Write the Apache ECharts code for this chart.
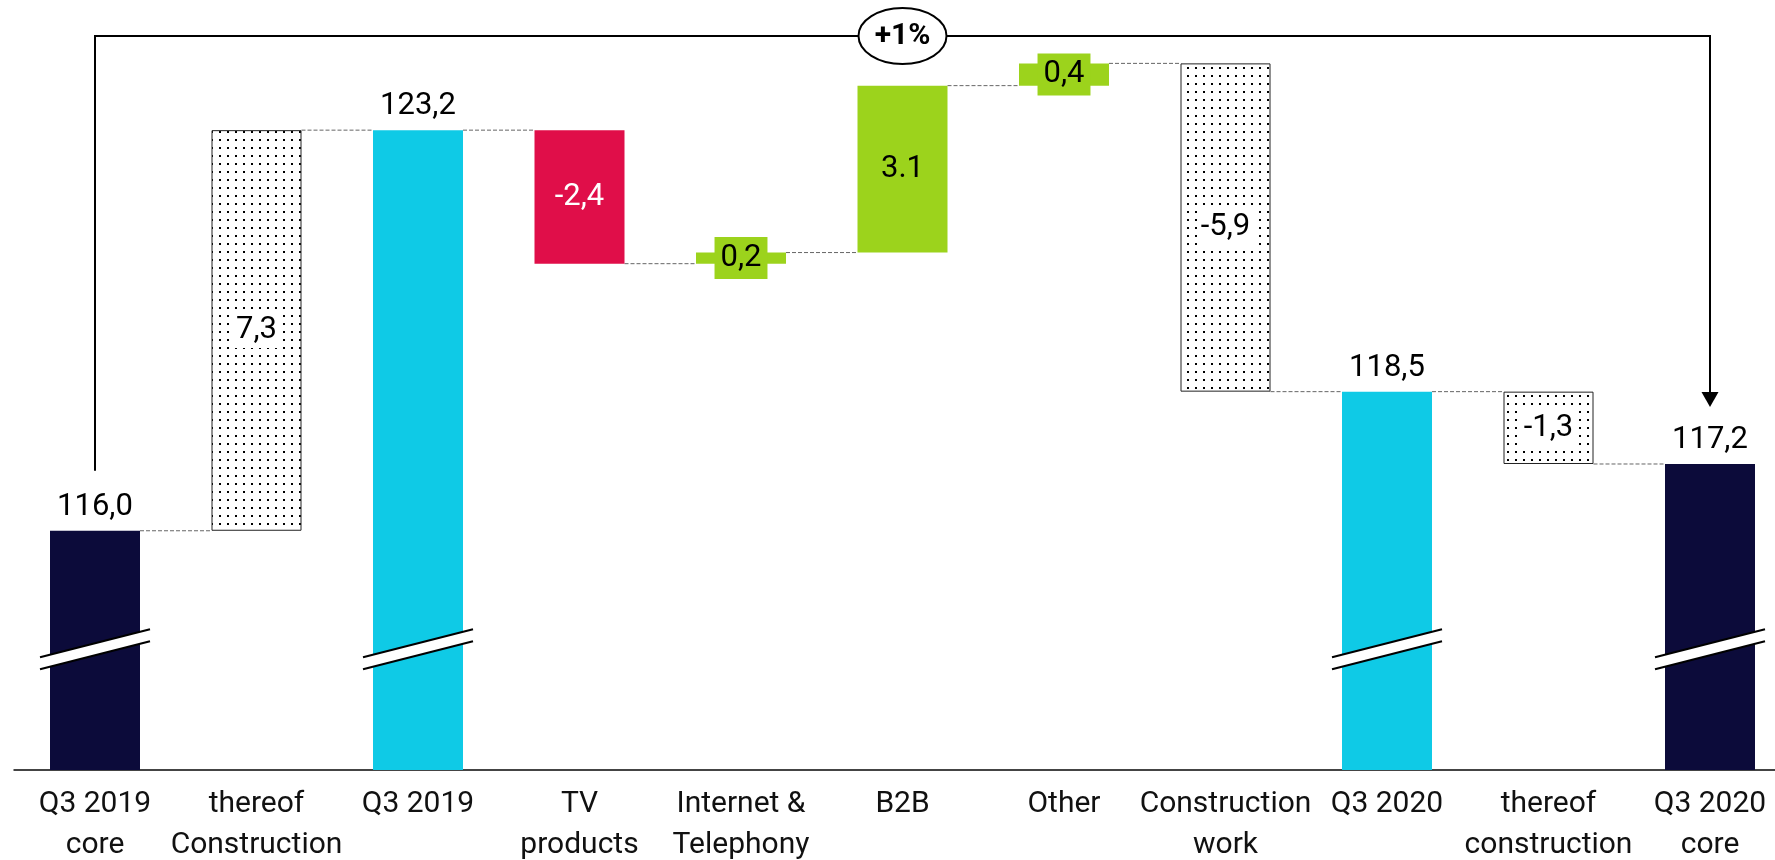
<!DOCTYPE html>
<html>
<head>
<meta charset="utf-8">
<script src="https://cdn.jsdelivr.net/npm/echarts@6/dist/echarts.min.js"></script>
<style>
  html, body { margin: 0; padding: 0; background: #fff; overflow: hidden; }
  #chart { width: 1792px; height: 860px; }
</style>
</head>
<body>
<div id="chart"></div>
<script>
// data
const categories = ['Q3 2019\ncore', 'thereof\nConstruction', 'Q3 2019', 'TV\nproducts', 'Internet &\nTelephony', 'B2B', 'Other', 'Construction\nwork', 'Q3 2020', 'thereof\nconstruction', 'Q3 2020\ncore']
const isTotal = [true, false, true, false, false, false, false, false, true, false, true]
const values = [116.0, 7.2, 123.2, -2.4, 0.2, 3.0, 0.4, -5.9, 118.5, -1.3, 117.2]
const valueLabels = ['116,0', '7,3', '123,2', '-2,4', '0,2', '3.1', '0,4', '-5,9', '118,5', '-1,3', '117,2']
const growthLabel = '+1%'

// styles
const NAVY = '#0c0b3a'
const CYAN = '#0fcae6'
const RED = '#e00e49'
const GREEN = '#9cd31c'
const FONT = 'Roboto'
const kinds = ['core', 'dotted', 'total', 'down', 'small', 'up', 'small', 'dotted', 'total', 'dotted', 'core']
const BAR_W = 90
const BREAK_VALUE = 113.87

// dot pattern for the "thereof" bars
const dotCanvas = document.createElement('canvas')
dotCanvas.width = 8
dotCanvas.height = 8
const dctx = dotCanvas.getContext('2d')
dctx.fillStyle = '#fff'
dctx.fillRect(0, 0, 8, 8)
dctx.fillStyle = '#000'
dctx.fillRect(3, 3, 2, 2)

// waterfall bases
const base = []
const body = []
const levelAfter = []
let level = 0
values.forEach((v, i) => {
  if (isTotal[i]) {
    base.push(0)
    body.push(v)
    level = v
  } else {
    const end = level + v
    base.push(Math.min(level, end))
    body.push(Math.abs(v))
    level = end
  }
  levelAfter.push(level)
})

function itemFor(i) {
  const k = kinds[i]
  const label = { show: true, position: 'inside', color: '#000', fontSize: 31, fontFamily: FONT }
  let itemStyle = {}
  if (k === 'core') {
    itemStyle = { color: NAVY }
    Object.assign(label, { position: 'top', distance: 8 })
  } else if (k === 'total') {
    itemStyle = { color: CYAN }
    Object.assign(label, { position: 'top', distance: 8 })
  } else if (k === 'dotted') {
    itemStyle = { color: { image: dotCanvas, repeat: 'repeat' }, borderColor: '#222', borderWidth: 1 }
    Object.assign(label, { backgroundColor: '#fff', padding: [2, 3] })
  } else if (k === 'down') {
    itemStyle = { color: RED }
    label.color = '#fff'
  } else if (k === 'up') {
    itemStyle = { color: GREEN }
  } else if (k === 'small') {
    itemStyle = { color: GREEN }
    Object.assign(label, { backgroundColor: GREEN, padding: [5, 6], lineHeight: 32 })
  }
  return { value: body[i], itemStyle, label }
}

// ellipse outline as bezier path
function ellipsePath(cx, cy, rx, ry) {
  const k = 0.5523
  return `M ${cx - rx} ${cy} ` +
    `C ${cx - rx} ${cy - k * ry} ${cx - k * rx} ${cy - ry} ${cx} ${cy - ry} ` +
    `C ${cx + k * rx} ${cy - ry} ${cx + rx} ${cy - k * ry} ${cx + rx} ${cy} ` +
    `C ${cx + rx} ${cy + k * ry} ${cx + k * rx} ${cy + ry} ${cx} ${cy + ry} ` +
    `C ${cx - k * rx} ${cy + ry} ${cx - rx} ${cy + k * ry} ${cx - rx} ${cy} Z`
}

const chart = echarts.init(document.getElementById('chart'))

chart.setOption({
  animation: false,
  grid: { left: 14.25, top: 30, width: 1776.5, height: 740, outerBoundsMode: 'none', containLabel: false },
  xAxis: {
    type: 'category',
    data: categories,
    axisLine: { lineStyle: { color: '#444', width: 2 } },
    axisTick: { show: false },
    axisLabel: {
      interval: 0,
      color: '#111',
      fontSize: 30,
      fontFamily: FONT,
      lineHeight: 41,
      margin: 14,
      verticalAlign: 'top',
    },
  },
  yAxis: {
    type: 'value',
    min: 111.7,
    max: 125,
    show: false,
    splitLine: { show: false },
  },
  series: [
    {
      type: 'bar',
      stack: 'wf',
      barWidth: BAR_W,
      itemStyle: { color: 'transparent' },
      data: base,
      silent: true,
    },
    {
      type: 'bar',
      stack: 'wf',
      barWidth: BAR_W,
      data: values.map((v, i) => itemFor(i)),
      label: { formatter: p => valueLabels[p.dataIndex] },
      z: 3,
    },
    {
      // dashed connectors
      type: 'custom',
      data: levelAfter.slice(0, -1).map((l, i) => [i, l]),
      renderItem: (params, api) => {
        const i = api.value(0)
        const l = api.value(1)
        const a = api.coord([i, l])
        const b = api.coord([i + 1, l])
        return {
          type: 'line',
          shape: { x1: a[0] + BAR_W / 2, y1: a[1], x2: b[0] - BAR_W / 2, y2: b[1] },
          style: { stroke: '#666', lineWidth: 1, lineDash: [4, 2] },
        }
      },
      z: 1,
    },
    {
      // axis break marks on the total bars
      type: 'custom',
      data: isTotal.map((t, i) => (t ? [i, BREAK_VALUE] : null)).filter(Boolean),
      renderItem: (params, api) => {
        const p = api.coord([api.value(0), api.value(1)])
        const x1 = p[0] - 55
        const x2 = p[0] + 55
        return {
          type: 'group',
          children: [
            {
              type: 'polygon',
              shape: { points: [[x1, p[1] + 8], [x2, p[1] - 20], [x2, p[1] - 8], [x1, p[1] + 20]] },
              style: { fill: '#fff' },
            },
            { type: 'line', shape: { x1, y1: p[1] + 8, x2, y2: p[1] - 20 }, style: { stroke: '#000', lineWidth: 2 } },
            { type: 'line', shape: { x1, y1: p[1] + 20, x2, y2: p[1] - 8 }, style: { stroke: '#000', lineWidth: 2 } },
          ],
        }
      },
      z: 5,
    },
    {
      // growth bracket from first to last core bar
      type: 'custom',
      data: [[0, values[0], values.length - 1, values[values.length - 1]]],
      renderItem: (params, api) => {
        const a = api.coord([api.value(0), api.value(1)])
        const b = api.coord([api.value(2), api.value(3)])
        const top = 36
        const leftEnd = a[1] - 60
        const tip = b[1] - 57
        const cx = (a[0] + b[0]) / 2
        return {
          type: 'group',
          children: [
            {
              type: 'polyline',
              shape: { points: [[a[0], leftEnd], [a[0], top], [b[0], top], [b[0], tip - 14]] },
              style: { stroke: '#000', lineWidth: 2, fill: null },
            },
            {
              type: 'polygon',
              shape: { points: [[b[0] - 8.5, tip - 15], [b[0] + 8.5, tip - 15], [b[0], tip]] },
              style: { fill: '#000' },
            },
            {
              type: 'path',
              shape: { pathData: ellipsePath(cx, top, 44, 28) },
              style: { fill: '#fff', stroke: '#000', lineWidth: 2 },
            },
            {
              type: 'text',
              x: cx,
              y: top,
              style: {
                text: growthLabel,
                fill: '#000',
                font: `bold 30px ${FONT}`,
                align: 'center',
                verticalAlign: 'middle',
              },
            },
          ],
        }
      },
      z: 6,
    },
  ],
})
</script>
</body>
</html>
